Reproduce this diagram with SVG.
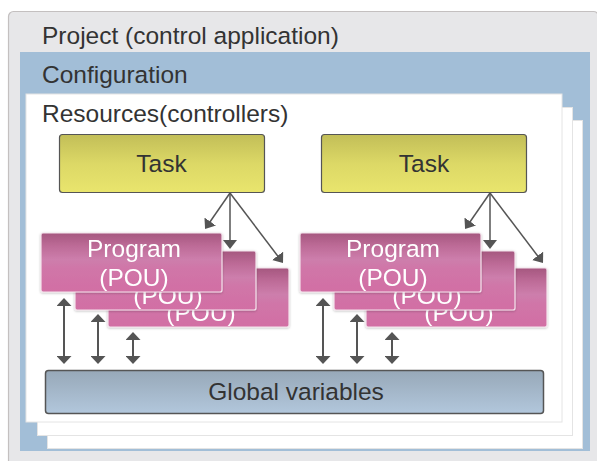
<svg xmlns="http://www.w3.org/2000/svg" width="597" height="461" viewBox="0 0 597 461">
<style>
text{font-family:"Liberation Sans",Arial,Helvetica,sans-serif;font-size:24.5px;fill:#333}
.hd{text-anchor:start}
.ctr{text-anchor:middle}
.pt{fill:#ffffff;text-anchor:middle}
.page{fill:#ffffff;stroke:#e4e4e4;stroke-width:1}
.task{fill:url(#gTask);stroke:#555;stroke-width:1.2}
.prog{fill:url(#gProg);stroke:#f3e3ec;stroke-width:1.2}
.glob{fill:url(#gGlob);stroke:#555;stroke-width:1.5}
.ln{stroke:#555;stroke-width:1.5;fill:none;marker-end:url(#ah)}
.dl{stroke:#555;stroke-width:2;fill:none;marker-start:url(#ah2);marker-end:url(#ah2)}
</style>
<defs>
<linearGradient id="gTask" x1="0" y1="0" x2="0" y2="1">
<stop offset="0" stop-color="#c2be58"/>
<stop offset="0.5" stop-color="#dcd866"/>
<stop offset="1" stop-color="#e9e56d"/>
</linearGradient>
<linearGradient id="gProg" x1="0" y1="0" x2="0" y2="1">
<stop offset="0" stop-color="#a5577f"/>
<stop offset="0.22" stop-color="#bd6b97"/>
<stop offset="0.45" stop-color="#cd7eac"/>
<stop offset="0.6" stop-color="#d076a8"/>
<stop offset="1" stop-color="#d26ea4"/>
</linearGradient>
<linearGradient id="gGlob" x1="0" y1="0" x2="0" y2="1">
<stop offset="0" stop-color="#97a8b8"/>
<stop offset="1" stop-color="#b2c7dc"/>
</linearGradient>
<filter id="sh" x="-5%" y="-5%" width="110%" height="115%">
<feDropShadow dx="0" dy="0.8" stdDeviation="0.8" flood-color="#000" flood-opacity="0.25"/>
</filter>
<marker id="ah" viewBox="0 0 9 14" refX="3" refY="7" markerWidth="9" markerHeight="14" markerUnits="userSpaceOnUse" orient="auto-start-reverse">
<path d="M0,0 L9,7 L0,14 z" fill="#555"/>
</marker>
<marker id="ah2" viewBox="0 0 8 15" refX="3" refY="7.5" markerWidth="8" markerHeight="15" markerUnits="userSpaceOnUse" orient="auto-start-reverse">
<path d="M0,0 L8,7.5 L0,15 z" fill="#555"/>
</marker>
</defs>

<rect x="0" y="0" width="597" height="461" fill="#ffffff"/>

<g id="project">
<rect x="8.5" y="11.5" width="590" height="460" rx="5" fill="#e7e7e9" stroke="#c4c0c0" stroke-width="1.2"/>
<text class="hd" x="42" y="43.5">Project (control application)</text>
</g>

<g id="configuration">
<rect x="20" y="52" width="570" height="399" fill="#a2bed7"/>
<text class="hd" x="42" y="83">Configuration</text>
</g>

<g id="resources">
<rect class="page" x="47.5" y="120.5" width="535" height="328"/>
<rect class="page" x="37.5" y="107.5" width="535" height="328"/>
<rect class="page" x="26" y="94" width="536" height="328" stroke="none"/>
<text class="hd" x="42" y="122">Resources(controllers)</text>
</g>

<g id="task-left">
<rect class="task" x="59.5" y="134.5" width="205" height="58" rx="3"/>
<text class="ctr" x="161.5" y="172">Task</text>
</g>
<g id="task-right">
<rect class="task" x="321.5" y="134.5" width="205" height="58" rx="3"/>
<text class="ctr" x="424" y="172">Task</text>
</g>

<g id="program-left-3" filter="url(#sh)">
<rect class="prog" x="108" y="268" width="181" height="59" rx="2"/>
<text class="pt" x="201" y="321">(POU)</text>
</g>
<g id="program-left-2" filter="url(#sh)">
<rect class="prog" x="75" y="251" width="181" height="59" rx="2"/>
<text class="pt" x="168" y="304">(POU)</text>
</g>
<g id="program-left-1" filter="url(#sh)">
<rect class="prog" x="41" y="233" width="181" height="59" rx="2"/>
<text class="pt" x="134" y="257">Program</text>
<text class="pt" x="134" y="286">(POU)</text>
</g>

<g id="program-right-3" filter="url(#sh)">
<rect class="prog" x="366" y="268" width="181" height="59" rx="2"/>
<text class="pt" x="459" y="321">(POU)</text>
</g>
<g id="program-right-2" filter="url(#sh)">
<rect class="prog" x="334" y="251" width="181" height="59" rx="2"/>
<text class="pt" x="427" y="304">(POU)</text>
</g>
<g id="program-right-1" filter="url(#sh)">
<rect class="prog" x="300" y="233" width="181" height="59" rx="2"/>
<text class="pt" x="393" y="257">Program</text>
<text class="pt" x="393" y="286">(POU)</text>
</g>

<g id="global-variables">
<rect class="glob" x="45.5" y="370.5" width="498" height="43" rx="3"/>
<text class="ctr" x="296" y="400">Global variables</text>
</g>

<g id="connectors">
<line class="ln" x1="230" y1="193" x2="208.5" y2="224"/>
<line class="ln" x1="230" y1="193" x2="230" y2="243"/>
<line class="ln" x1="230" y1="193" x2="279.4" y2="258.2"/>
<line class="ln" x1="490" y1="193" x2="468.5" y2="224"/>
<line class="ln" x1="490" y1="193" x2="490" y2="243"/>
<line class="ln" x1="490" y1="193" x2="539.4" y2="258.2"/>
<line class="dl" x1="64" y1="303" x2="64" y2="359"/>
<line class="dl" x1="98" y1="319" x2="98" y2="359"/>
<line class="dl" x1="133" y1="337" x2="133" y2="359"/>
<line class="dl" x1="323" y1="303" x2="323" y2="359"/>
<line class="dl" x1="357" y1="319" x2="357" y2="359"/>
<line class="dl" x1="392" y1="337" x2="392" y2="359"/>
</g>
</svg>
